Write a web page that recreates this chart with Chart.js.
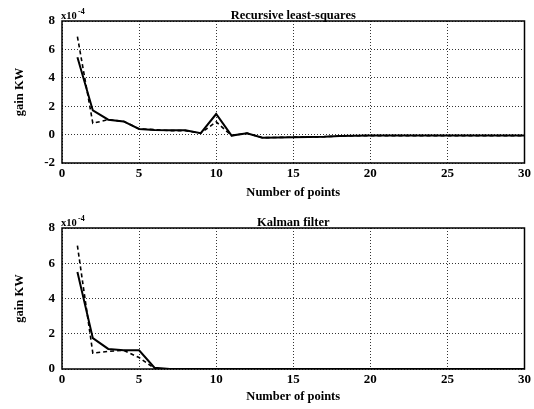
<!DOCTYPE html>
<html>
<head>
<meta charset="utf-8">
<script src="https://cdn.jsdelivr.net/npm/chart.js@4/dist/chart.umd.min.js"></script>
<style>
  body { margin: 0; background: #fff; }
  #wrap { position: relative; width: 534px; height: 409px; }
  .box { position: absolute; left: 0; width: 534px; }
</style>
</head>
<body>
<div id="wrap">
  <div class="box" style="top:0;height:205px"><canvas id="rls"></canvas></div>
  <div class="box" style="top:205px;height:204px"><canvas id="kf"></canvas></div>
</div>
<script>
// number of points (x values)
var points = [];
for (var i = 1; i <= 30; i++) points.push(i);

// gain values, in units of 1e-4
var rlsSolid = [5.45, 1.7, 1.05, 0.93, 0.4, 0.33, 0.3, 0.3, 0.1, 1.45,
  -0.07, 0.1, -0.22, -0.2, -0.18, -0.17, -0.15, -0.1, -0.08, -0.07,
  -0.07, -0.07, -0.07, -0.07, -0.07, -0.07, -0.07, -0.07, -0.07, -0.07];
var rlsDashed = [6.9, 0.8, 1.05, 0.93, 0.4, 0.35, 0.28, 0.28, 0.1, 0.9,
  -0.07, 0.1, -0.22, -0.2, -0.18, -0.17, -0.15, -0.1, -0.08, -0.07,
  -0.07, -0.07, -0.07, -0.07, -0.07, -0.07, -0.07, -0.07, -0.07, -0.07];
var kfSolid = [5.5, 1.75, 1.14, 1.06, 1.06, 0.07, 0, 0, 0, 0,
  0, 0, 0, 0, 0, 0, 0, 0, 0, 0, 0, 0, 0, 0, 0, 0, 0, 0, 0, 0];
var kfDashed = [7.0, 0.9, 1.0, 1.06, 0.65, 0.03, 0, 0, 0, 0,
  0, 0, 0, 0, 0, 0, 0, 0, 0, 0, 0, 0, 0, 0, 0, 0, 0, 0, 0, 0];

var xTicks = [0, 5, 10, 15, 20, 25, 30];

var FONT = '"Liberation Serif", "DejaVu Serif", serif';

function toXY(vals) {
  return vals.map(function (v, i) { return { x: points[i], y: v }; });
}

// frame, title and the x10^-4 multiplier
var framePlugin = {
  id: 'frame',
  afterDraw: function (chart, args, opts) {
    var c = chart.ctx, a = chart.chartArea;
    c.save();
    c.strokeStyle = '#000';
    c.lineWidth = 1.5;
    c.strokeRect(a.left, a.top, a.right - a.left, a.bottom - a.top);
    c.fillStyle = '#000';
    c.textBaseline = 'alphabetic';
    c.font = 'bold 12.5px ' + FONT;
    c.textAlign = 'center';
    c.fillText(opts.text, (a.left + a.right) / 2, a.top - 2);
    c.textAlign = 'left';
    c.font = 'bold 10.5px ' + FONT;
    c.fillText('x10', a.left - 1, a.top - 2);
    c.font = 'bold 8px ' + FONT;
    c.fillText('-4', a.left + 16, a.top - 7);
    c.restore();
  }
};

function makeChart(id, solid, dashed, yMin, title, height, padTop, plotBottom) {
  var ctx = document.getElementById(id).getContext('2d');
  return new Chart(ctx, {
    type: 'line',
    data: {
      datasets: [
        { data: toXY(solid), borderColor: '#000', borderWidth: 2, pointRadius: 0, fill: false },
        { data: toXY(dashed), borderColor: '#000', borderWidth: 1.6, borderDash: [4, 3], pointRadius: 0, fill: false }
      ]
    },
    plugins: [framePlugin],
    options: {
      responsive: true,
      maintainAspectRatio: false,
      animation: false,
      layout: { padding: { top: padTop, right: 6, left: 0, bottom: 0 } },
      plugins: {
        legend: { display: false },
        tooltip: { enabled: false },
        frame: { text: title }
      },
      scales: {
        x: {
          type: 'linear', min: 0, max: 30,
          afterBuildTicks: function (s) { s.ticks = xTicks.map(function (v) { return { value: v }; }); },
          afterFit: function (s) { s.height = height - plotBottom; },
          grid: { color: '#000', lineWidth: 0.8, drawTicks: false },
          border: { display: false, dash: [1, 2] },
          ticks: { color: '#000', padding: 3, font: { family: FONT, size: 13, weight: 'bold' } },
          title: { display: true, text: 'Number of points', color: '#000', padding: { top: 0, bottom: 5 },
                   font: { family: FONT, size: 12.5, weight: 'bold' } }
        },
        y: {
          min: yMin, max: 8,
          ticks: { stepSize: 2, color: '#000', padding: 7, font: { family: FONT, size: 13, weight: 'bold' } },
          afterFit: function (s) { s.width = 62; },
          grid: { color: '#000', lineWidth: 0.8, drawTicks: false },
          border: { display: false, dash: [1, 2] },
          title: { display: true, text: 'gain KW', color: '#000', padding: { top: 12, bottom: 0 },
                   font: { family: FONT, size: 12.5, weight: 'bold' } }
        }
      }
    }
  });
}

window.onload = function () {
  makeChart('rls', rlsSolid, rlsDashed, -2, 'Recursive least-squares', 205, 21, 163);
  makeChart('kf', kfSolid, kfDashed, 0, 'Kalman filter', 204, 23, 164);
};
</script>
</body>
</html>
